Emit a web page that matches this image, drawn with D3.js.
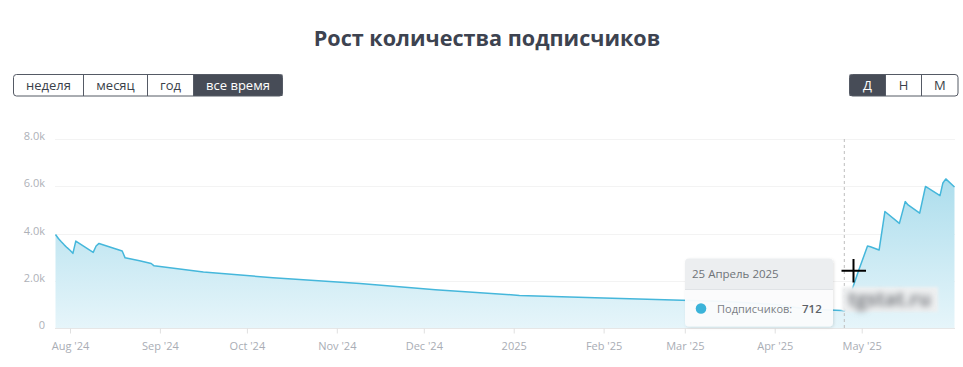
<!DOCTYPE html>
<html>
<head>
<meta charset="utf-8">
<title>Рост количества подписчиков</title>
<script src="https://d3js.org/d3.v7.min.js"></script>
<style>
body { margin: 0; background: #fff; }
text { font-family: "Open Sans", sans-serif; }
</style>
</head>
<body>
<div id="container"></div>
<script>
// chart data
var dates = ["2024-07-27","2024-07-28","2024-07-29","2024-07-30","2024-07-31","2024-08-01","2024-08-02",
  "2024-08-03","2024-08-05","2024-08-07","2024-08-09","2024-08-10","2024-08-11","2024-08-15","2024-08-19",
  "2024-08-20","2024-08-25","2024-08-29","2024-08-30","2024-09-16","2024-10-10","2024-11-09","2024-12-05",
  "2025-01-03","2025-02-01","2025-02-28","2025-03-15","2025-04-01","2025-04-12","2025-04-24","2025-04-25",
  "2025-04-26","2025-04-27","2025-04-28","2025-04-30","2025-05-03","2025-05-04","2025-05-07","2025-05-09",
  "2025-05-14","2025-05-16","2025-05-17","2025-05-21","2025-05-23","2025-05-28","2025-05-29","2025-05-30",
  "2025-06-02"];
var subscribers = [3960,3790,3650,3520,3400,3290,3160,
  3680,3520,3360,3200,3470,3580,3420,3260,
  2970,2850,2730,2630,2370,2130,1880,1620,
  1380,1270,1170,1120,1000,800,740,712,
  950,1300,1740,2450,3470,3440,3300,4930,
  4430,5350,5210,4860,5990,5600,6140,6310,
  5970];
var yTicks = [0, 2000, 4000, 6000, 8000];
var yTickLabels = ["0", "2.0k", "4.0k", "6.0k", "8.0k"];
var monthTicks = ["2024-08-01","2024-09-01","2024-10-01","2024-11-01","2024-12-01","2025-01-01",
  "2025-02-01","2025-03-01","2025-04-01","2025-05-01"];
var monthLabels = ["Aug '24","Sep '24","Oct '24","Nov '24","Dec '24","2025","Feb '25","Mar '25","Apr '25","May '25"];
var rangeButtons = ["неделя", "месяц", "год", "все время"];
var periodButtons = ["Д", "Н", "М"];
var hoverDate = "2025-04-25";
var hoverLabel = "25 Апрель 2025";
var seriesName = "Подписчиков";

var parse = d3.utcParse("%Y-%m-%d");
var data = dates.map(function(d, i) { return { date: parse(d), value: subscribers[i] }; });

var W = 963, H = 367;
var svg = d3.select("#container").append("svg")
  .attr("width", W).attr("height", H);

var defs = svg.append("defs");
var grad = defs.append("linearGradient").attr("id", "fill")
  .attr("gradientUnits", "userSpaceOnUse")
  .attr("x1", 0).attr("y1", 139).attr("x2", 0).attr("y2", 328);
grad.append("stop").attr("offset", "0").attr("stop-color", "#9dd7e9");
grad.append("stop").attr("offset", "1").attr("stop-color", "#e6f5fa");

var blur = defs.append("filter").attr("id", "blur").attr("x", "-20%").attr("y", "-60%")
  .attr("width", "140%").attr("height", "220%");
blur.append("feGaussianBlur").attr("stdDeviation", 3.2);
var soft = defs.append("filter").attr("id", "soft");
soft.append("feGaussianBlur").attr("stdDeviation", 1.5);
var shadow = defs.append("filter").attr("id", "shadow").attr("x", "-10%").attr("y", "-10%")
  .attr("width", "130%").attr("height", "140%");
shadow.append("feDropShadow").attr("dx", 1).attr("dy", 1).attr("stdDeviation", 1.5)
  .attr("flood-color", "#000").attr("flood-opacity", 0.12);

// title
svg.append("text")
  .attr("x", 487).attr("y", 46)
  .attr("text-anchor", "middle")
  .attr("font-size", 21.6).attr("font-weight", 700)
  .attr("fill", "#3d4350")
  .text("Рост количества подписчиков");

// button groups
function buttonGroup(labels, edges, active) {
  var g = svg.append("g");
  labels.forEach(function(l, i) {
    var x0 = edges[i], x1 = edges[i + 1];
    if (i === active) {
      g.append("rect").attr("x", x0).attr("y", 74.5).attr("width", x1 - x0).attr("height", 21.5)
        .attr("fill", "#474c57");
    }
    g.append("text").attr("x", (x0 + x1) / 2).attr("y", 90)
      .attr("text-anchor", "middle").attr("font-size", 13)
      .attr("fill", i === active ? "#fff" : "#3a3f4a")
      .text(l);
    if (i > 0) {
      g.append("line").attr("x1", x0).attr("x2", x0).attr("y1", 74.5).attr("y2", 96)
        .attr("stroke", "#555a65").attr("stroke-width", 1);
    }
  });
  g.append("rect").attr("x", edges[0]).attr("y", 74.5)
    .attr("width", edges[edges.length - 1] - edges[0]).attr("height", 21.5)
    .attr("rx", 3).attr("fill", "none").attr("stroke", "#555a65").attr("stroke-width", 1);
}
buttonGroup(rangeButtons, [13.5, 83.5, 147.5, 193.5, 282.5], 3);
buttonGroup(periodButtons, [849.5, 885.5, 921.5, 958], 0);

// scales
var x = d3.scaleUtc()
  .domain([parse("2024-07-27"), parse("2025-06-02")])
  .range([55.5, 954.5]);
var y = d3.scaleLinear().domain([0, 8000]).range([328, 139]);

// grid
svg.append("g").selectAll("line").data(yTicks.slice(1)).join("line")
  .attr("x1", 55).attr("x2", 955)
  .attr("y1", function(d) { return Math.round(y(d)) + 0.5; })
  .attr("y2", function(d) { return Math.round(y(d)) + 0.5; })
  .attr("stroke", "#f3f3f3");

// y labels
svg.append("g").selectAll("text").data(yTicks).join("text")
  .attr("x", 45).attr("y", function(d) { return y(d) + 1; })
  .attr("text-anchor", "end").attr("font-size", 11)
  .attr("fill", "#aeb1b8")
  .text(function(d, i) { return yTickLabels[i]; });

// x axis
var xAxis = d3.axisBottom(x)
  .tickValues(monthTicks.map(parse))
  .tickSize(5)
  .tickFormat(function(d, i) { return monthLabels[i]; });
var gx = svg.append("g").attr("transform", "translate(0,328.5)").call(xAxis);
gx.select(".domain").attr("stroke", "#e6e6e6").attr("d", "M55,0H955");
gx.selectAll(".tick line").attr("stroke", "#e0e0e0");
gx.selectAll(".tick text").attr("font-family", "Open Sans, sans-serif")
  .attr("font-size", 11).attr("fill", "#a9adb5").attr("dy", "1.25em");

// area + line
var area = d3.area()
  .x(function(d) { return x(d.date); })
  .y0(y(0))
  .y1(function(d) { return y(d.value); });
var line = d3.line()
  .x(function(d) { return x(d.date); })
  .y(function(d) { return y(d.value); });

svg.append("path").datum(data).attr("d", area).attr("fill", "url(#fill)");
svg.append("path").datum(data).attr("d", line)
  .attr("fill", "none").attr("stroke", "#45b7db").attr("stroke-width", 1.5)
  .attr("stroke-linejoin", "round");

// hover crosshair
var hx = x(parse(hoverDate));
svg.append("line").attr("x1", hx).attr("x2", hx).attr("y1", 139).attr("y2", 328)
  .attr("stroke", "#bdbdbd").attr("stroke-dasharray", "3,3");

// blurred watermark
svg.append("rect").attr("x", 842).attr("y", 287).attr("width", 96).attr("height", 25)
  .attr("fill", "#eef0f1").attr("filter", "url(#soft)");
svg.append("text").attr("x", 848).attr("y", 306)
  .attr("font-size", 19).attr("font-weight", 700).attr("fill", "#7b7e83").attr("filter", "url(#blur)")
  .text("tgstat.ru");

// tooltip
var tip = svg.append("g").attr("transform", "translate(685,258.5)");
tip.append("rect").attr("width", 148).attr("height", 68).attr("rx", 4)
  .attr("fill", "#fbfcfd").attr("fill-opacity", 0.95).attr("filter", "url(#shadow)");
tip.append("path").attr("d", "M0,31V4a4,4 0 0 1 4,-4H144a4,4 0 0 1 4,4V31Z").attr("fill", "#eceef0");
tip.append("line").attr("x1", 0).attr("x2", 148).attr("y1", 31).attr("y2", 31).attr("stroke", "#e0e3e6");
tip.append("text").attr("x", 7).attr("y", 19.5).attr("font-size", 11.5).attr("fill", "#6f7378")
  .text(hoverLabel);
tip.append("circle").attr("cx", 16).attr("cy", 50).attr("r", 5.3).attr("fill", "#3ab3d9");
tip.append("text").attr("x", 32).attr("y", 54).attr("font-size", 11).attr("fill", "#7a7e84")
  .text(seriesName + ":");
tip.append("text").attr("x", 117).attr("y", 54).attr("font-size", 11.5).attr("font-weight", 600)
  .attr("fill", "#5c6066")
  .text(subscribers[dates.indexOf(hoverDate)]);

// mouse cursor as captured in the screenshot
svg.append("path").attr("d", "M841.5,270.7H866M853.5,259V282.5")
  .attr("stroke", "#000").attr("stroke-width", 2);
</script>
</body>
</html>
